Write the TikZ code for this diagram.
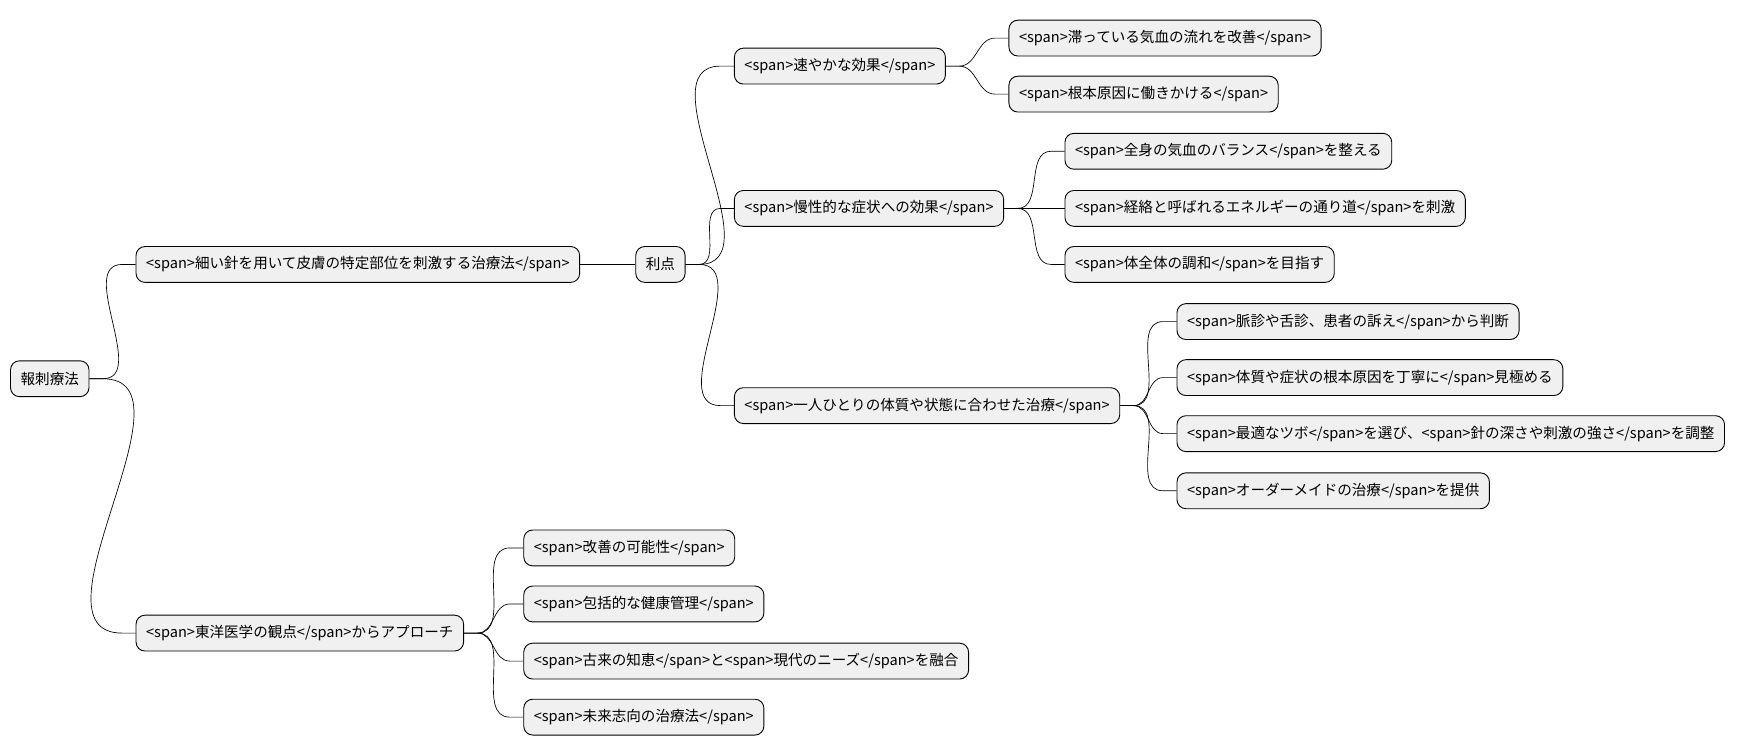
\documentclass[tikz,border=0pt]{standalone}
\usepackage{fontspec}
\setmainfont{Noto Sans CJK JP}
\begin{document}
\begin{tikzpicture}[x=1pt,y=-1pt,
  nd/.style={draw=black,line width=0.8pt,fill=black!6,rounded corners=8pt,minimum height=32pt,inner xsep=9pt,anchor=west,font=\fontsize{13pt}{15pt}\selectfont},
  ed/.style={line width=0.6pt}]
\useasboundingbox (0,0) rectangle (1560,671);
\node[nd] (r) at (9,338) {報刺療法};
\node[nd] (a) at (121,236) {<span>細い針を用いて皮膚の特定部位を刺激する治療法</span>};
\node[nd] (b) at (567,236) {利点};
\node[nd] (c1) at (655,59) {<span>速やかな効果</span>};
\node[nd] (c11) at (900,34) {<span>滞っている気血の流れを改善</span>};
\node[nd] (c12) at (900,84) {<span>根本原因に働きかける</span>};
\node[nd] (c2) at (655,186) {<span>慢性的な症状への効果</span>};
\node[nd] (c21) at (950,135) {<span>全身の気血のバランス</span>を整える};
\node[nd] (c22) at (950,186) {<span>経絡と呼ばれるエネルギーの通り道</span>を刺激};
\node[nd] (c23) at (950,236) {<span>体全体の調和</span>を目指す};
\node[nd] (c3) at (655,362) {<span>一人ひとりの体質や状態に合わせた治療</span>};
\node[nd] (c31) at (1050,287) {<span>脈診や舌診、患者の訴え</span>から判断};
\node[nd] (c32) at (1050,337) {<span>体質や症状の根本原因を丁寧に</span>見極める};
\node[nd] (c33) at (1050,387) {<span>最適なツボ</span>を選び、<span>針の深さや刺激の強さ</span>を調整};
\node[nd] (c34) at (1050,438) {<span>オーダーメイドの治療</span>を提供};
\node[nd] (d) at (121,565) {<span>東洋医学の観点</span>からアプローチ};
\node[nd] (d1) at (467,489) {<span>改善の可能性</span>};
\node[nd] (d2) at (467,539) {<span>包括的な健康管理</span>};
\node[nd] (d3) at (467,590) {<span>古来の知恵</span>と<span>現代のニーズ</span>を融合};
\node[nd] (d4) at (467,640) {<span>未来志向の治療法</span>};
\foreach \p/\c in {r/a,r/d,a/b,b/c1,b/c2,b/c3,c1/c11,c1/c12,c2/c21,c2/c22,c2/c23,c3/c31,c3/c32,c3/c33,c3/c34,d/d1,d/d2,d/d3,d/d4}
  \draw[ed] (\p.east) -- ++(12,0) to[out=0,in=180] ([xshift=-12pt]\c.west) -- (\c.west);
\end{tikzpicture}
\end{document}
